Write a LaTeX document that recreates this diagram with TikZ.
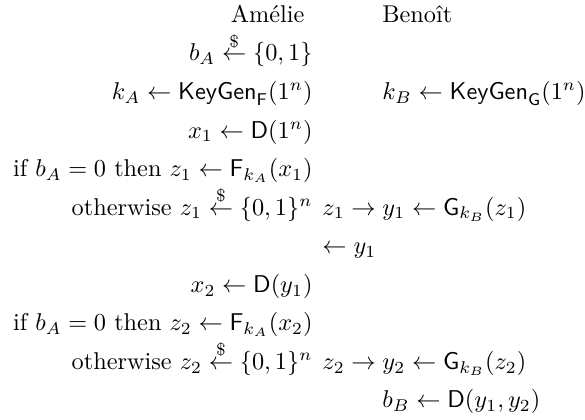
\documentclass[tikz,border=0pt]{standalone}
\usepackage{amsmath,amssymb}
\usepackage{tikz}
\usetikzlibrary{positioning}
\newcommand{\rnd}{\overset{\$}{\leftarrow}}
\newcommand{\alg}[1]{\mathsf{#1}}
\tikzset{
  ladoa/.style={anchor=base east,inner sep=0pt},
  ladob/.style={anchor=base west,inner sep=0pt},
  msg/.style={anchor=base west,inner sep=0pt}
}

\begin{document}
\begin{tikzpicture}[x=0.4115pt,y=-0.4115pt]
  \useasboundingbox (0,0) rectangle (585,420);
  % cabecalho
  \node[ladoa] (amelie) at (305,22.5) {Amélie};
  \node[ladob] (benoit) at (382,22.5) {Benoît};
  % preparacao
  \node[ladoa] (bA) at (313,61) {$b_A \rnd \{0,1\}$};
  \node[ladoa] (kA) at (313,99.6) {$k_A \gets \alg{KeyGen}_{\alg{F}}(1^n)$};
  \node[ladob] (kB) at (382,99.6) {$k_B \gets \alg{KeyGen}_{\alg{G}}(1^n)$};
  % primeira rodada
  \node[ladoa] (x1) at (313,138.2) {$x_1 \gets \alg{D}(1^n)$};
  \node[ladoa] (if1) at (313,176.7) {$\text{if } b_A = 0 \text{ then } z_1 \gets \alg{F}_{k_A}(x_1)$};
  \node[ladoa] (oth1) at (313,215.3) {$\text{otherwise } z_1 \rnd \{0,1\}^n$};
  \node[msg] (m1) at (322,215.3) {$z_1 \to$};
  \node[ladob] (y1) at (382,215.3) {$y_1 \gets \alg{G}_{k_B}(z_1)$};
  \node[msg] (r1) at (322,253.8) {$\gets y_1$};
  % segunda rodada
  \node[ladoa] (x2) at (313,292.4) {$x_2 \gets \alg{D}(y_1)$};
  \node[ladoa] (if2) at (313,330.9) {$\text{if } b_A = 0 \text{ then } z_2 \gets \alg{F}_{k_A}(x_2)$};
  \node[ladoa] (oth2) at (313,369.5) {$\text{otherwise } z_2 \rnd \{0,1\}^n$};
  \node[msg] (m2) at (322,369.5) {$z_2 \to$};
  \node[ladob] (y2) at (382,369.5) {$y_2 \gets \alg{G}_{k_B}(z_2)$};
  \node[ladob] (bB) at (382,408) {$b_B \gets \alg{D}(y_1,y_2)$};
\end{tikzpicture}
\end{document}
